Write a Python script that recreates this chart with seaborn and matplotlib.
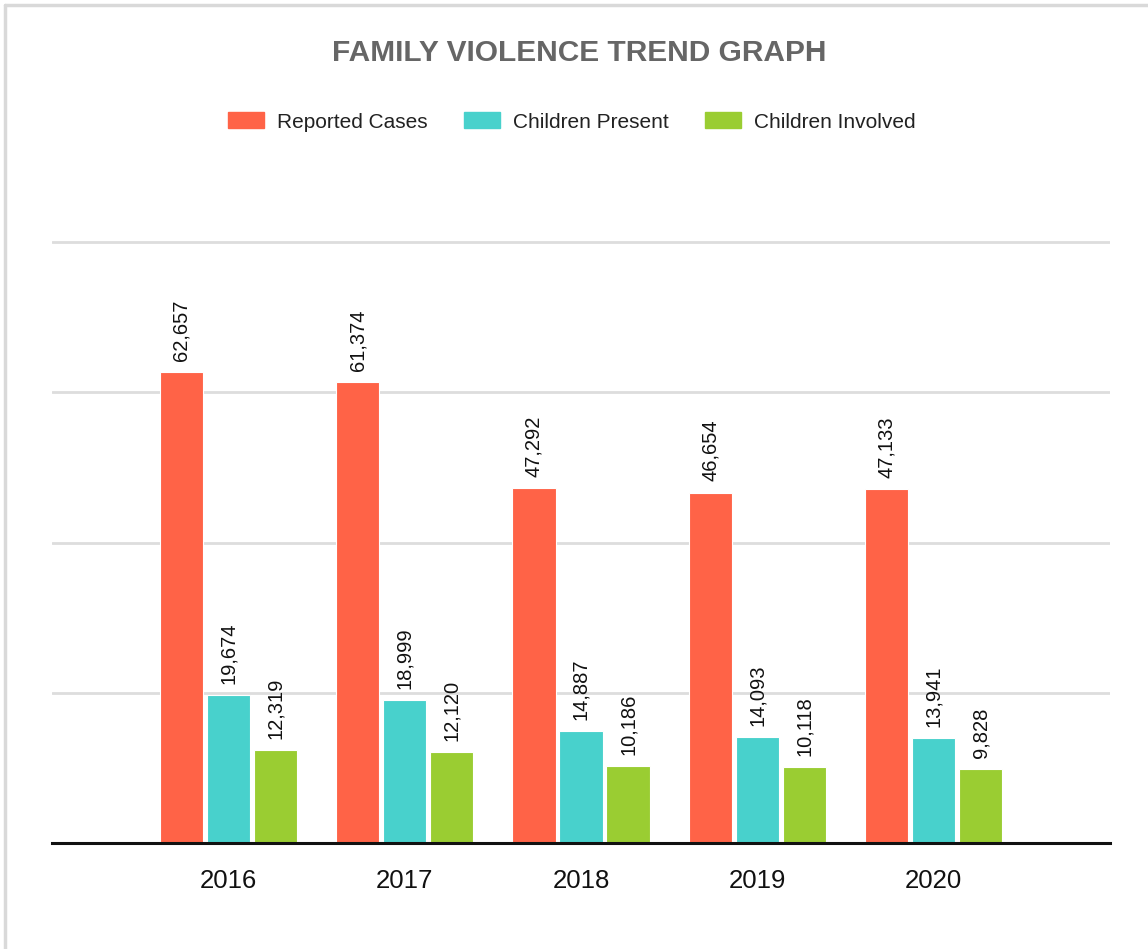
import matplotlib
matplotlib.use("Agg")
import matplotlib.pyplot as plt
from matplotlib.lines import Line2D
import seaborn as sns
import pandas as pd

years = ["2016", "2017", "2018", "2019", "2020"]
series = ["Reported Cases", "Children Present", "Children Involved"]
reported = [62657, 61374, 47292, 46654, 47133]
present = [19674, 18999, 14887, 14093, 13941]
involved = [12319, 12120, 10186, 10118, 9828]
colors = ["#FF6347", "#48D1CC", "#9ACD32"]

df = pd.DataFrame({
    "year": years * 3,
    "series": [s for s in series for _ in years],
    "value": reported + present + involved,
})

sns.set_theme(style="white")
plt.rcParams["font.family"] = ["Liberation Sans", "DejaVu Sans"]

fig = plt.figure(figsize=(11.48, 9.49), dpi=100)
W, H = 1148, 949
ax = fig.add_axes([52 / W, (H - 843) / H, (1110 - 52) / W, (843 - 234.5) / H])

sns.barplot(data=df, x="year", y="value", hue="series", hue_order=series,
            palette=colors, width=0.8, gap=0.08, edgecolor="#ffffff",
            linewidth=0.8, saturation=1, ax=ax, legend=False)

# value labels above each bar
for cont in ax.containers:
    ax.bar_label(cont, labels=[f"{v:,.0f}" for v in cont.datavalues],
                 rotation=90, padding=8, fontsize=14.5, color="#111111")

ax.set_xlim(-1, 5)
ax.set_ylim(0, 81000)
ax.set_yticks([0, 20000, 40000, 60000, 80000])
ax.set_yticklabels([])
ax.yaxis.grid(True, color="#dddddd", linewidth=2)
ax.set_axisbelow(True)
ax.set_xlabel("")
ax.set_ylabel("")
for s in ["top", "right", "left"]:
    ax.spines[s].set_visible(False)
ax.spines["bottom"].set_color("#111111")
ax.spines["bottom"].set_linewidth(2.2)
ax.tick_params(axis="x", length=0, pad=19, labelsize=18.5, labelcolor="#111111")
ax.tick_params(axis="y", length=0)

fig.text(0.5 + 5 / W, 1 - 53 / H, "FAMILY VIOLENCE TREND GRAPH", ha="center", va="center",
         fontsize=21.5, fontweight="bold", color="#666666")

handles = [plt.Rectangle((0, 0), 1, 1, color=c) for c in colors]
fig.legend(handles, series, loc="center", bbox_to_anchor=(0.498, 1 - 122 / H),
           ncol=3, frameon=False, fontsize=15, handlelength=1.75, handleheight=0.8,
           handletextpad=0.6, columnspacing=1.75, labelcolor="#222222")

# light frame along the top and left of the picture
fig.add_artist(Line2D([5 / W, 5 / W], [0, 1 - 5 / H], color="#d9d9d9", linewidth=2.5))
fig.add_artist(Line2D([5 / W, 1], [1 - 5 / H, 1 - 5 / H], color="#d9d9d9", linewidth=2.5))

fig.savefig("out.png", dpi=100)
